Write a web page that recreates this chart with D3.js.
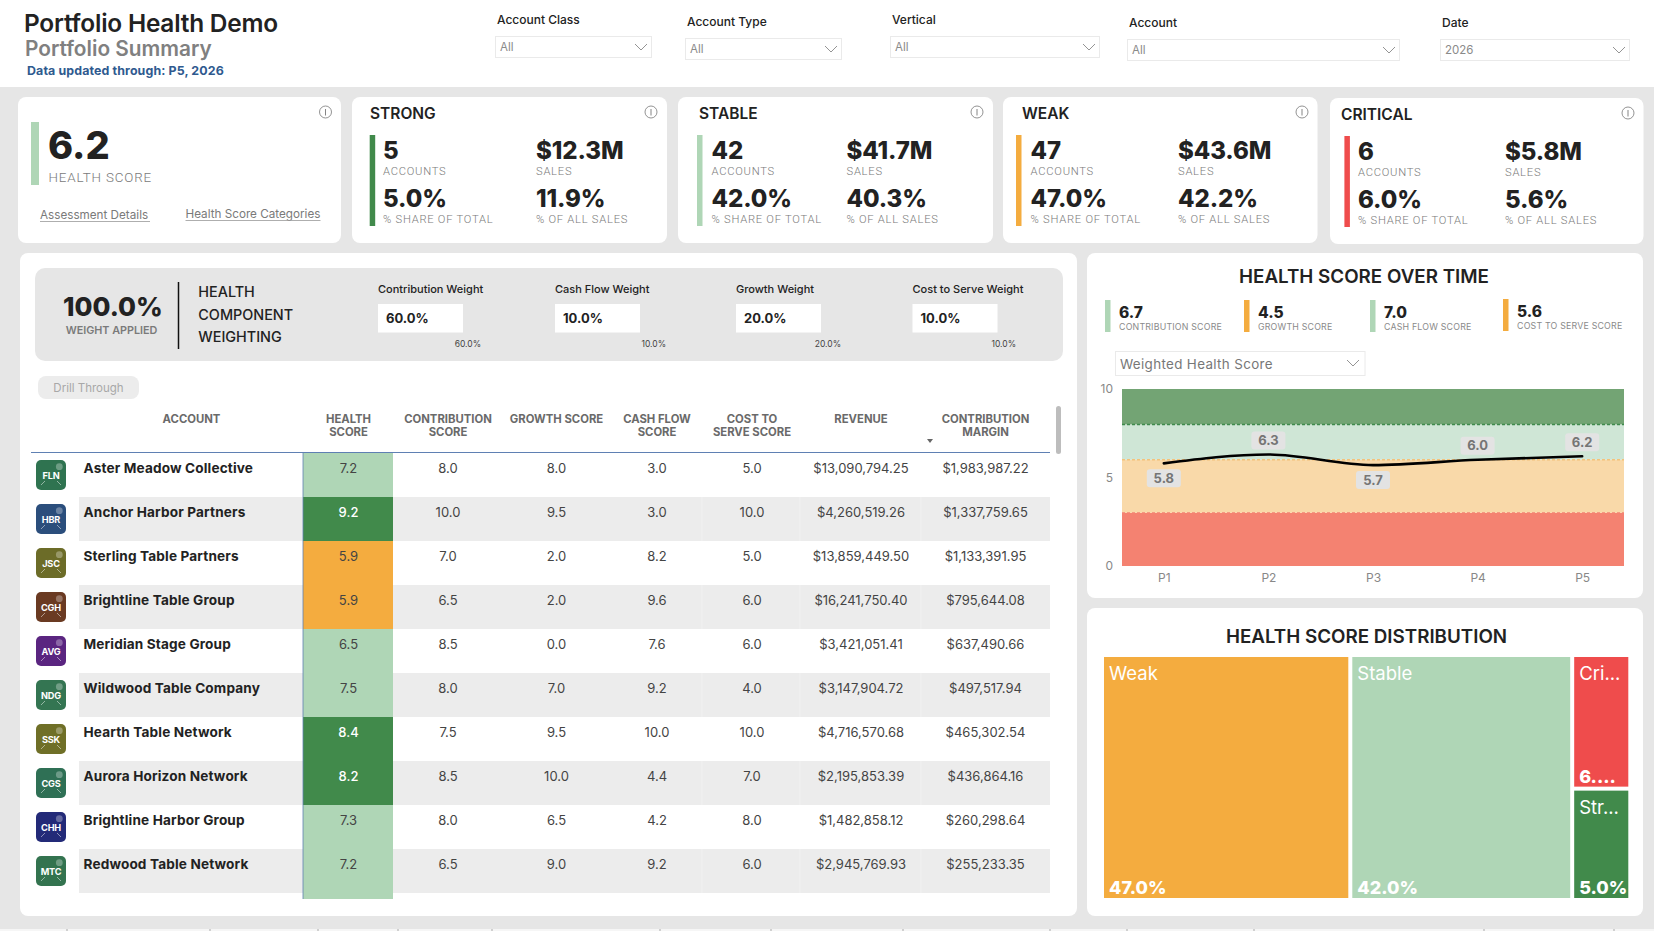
<!DOCTYPE html>
<html>
<head>
<meta charset="utf-8">
<title>Portfolio Health Demo</title>
<script src="https://cdn.jsdelivr.net/npm/d3@7"></script>
<style>
  html, body { margin: 0; padding: 0; background: #e6e6e6; }
  svg { display: block; }
  text { font-family: Inter, "Noto Sans", sans-serif; }
  .thin { font-family: Roboto, sans-serif; font-weight: 300; }
</style>
</head>
<body>
<svg id="chart" width="1654" height="931"></svg>
<script>
// slicers
const filterNames = ['Account Class', 'Account Type', 'Vertical', 'Account', 'Date'];
const filterValues = ['All', 'All', 'All', 'All', '2026'];

// category cards
const categories = ['STRONG', 'STABLE', 'WEAK', 'CRITICAL'];
const categoryAccounts = ['5', '42', '47', '6'];
const categorySales = ['$12.3M', '$41.7M', '$43.6M', '$5.8M'];
const categoryShare = ['5.0%', '42.0%', '47.0%', '6.0%'];
const categorySalesShare = ['11.9%', '40.3%', '42.2%', '5.6%'];

// weights
const weightNames = ['Contribution Weight', 'Cash Flow Weight', 'Growth Weight', 'Cost to Serve Weight'];
const weightValues = ['60.0%', '10.0%', '20.0%', '10.0%'];

// table
const columnNames = [['HEALTH', 'SCORE'], ['CONTRIBUTION', 'SCORE'], ['GROWTH SCORE'], ['CASH FLOW', 'SCORE'],
  ['COST TO', 'SERVE SCORE'], ['REVENUE'], ['CONTRIBUTION', 'MARGIN']];
const accountCodes = ['FLN', 'HBR', 'JSC', 'CGH', 'AVG', 'NDG', 'SSK', 'CGS', 'CHH', 'MTC'];
const accountNames = ['Aster Meadow Collective', 'Anchor Harbor Partners', 'Sterling Table Partners', 'Brightline Table Group',
  'Meridian Stage Group', 'Wildwood Table Company', 'Hearth Table Network', 'Aurora Horizon Network',
  'Brightline Harbor Group', 'Redwood Table Network'];
const healthScores = [7.2, 9.2, 5.9, 5.9, 6.5, 7.5, 8.4, 8.2, 7.3, 7.2];
const contributionScores = [8.0, 10.0, 7.0, 6.5, 8.5, 8.0, 7.5, 8.5, 8.0, 6.5];
const growthScores = [8.0, 9.5, 2.0, 2.0, 0.0, 7.0, 9.5, 10.0, 6.5, 9.0];
const cashFlowScores = [3.0, 3.0, 8.2, 9.6, 7.6, 9.2, 10.0, 4.4, 4.2, 9.2];
const costScores = [5.0, 10.0, 5.0, 6.0, 6.0, 4.0, 10.0, 7.0, 8.0, 6.0];
const revenues = [13090794.25, 4260519.26, 13859449.50, 16241750.40, 3421051.41, 3147904.72, 4716570.68, 2195853.39, 1482858.12, 2945769.93];
const margins = [1983987.22, 1337759.65, 1133391.95, 795644.08, 637490.66, 497517.94, 465302.54, 436864.16, 260298.64, 255233.35];

// score over time
const kpiValues = ['6.7', '4.5', '7.0', '5.6'];
const kpiNames = ['CONTRIBUTION SCORE', 'GROWTH SCORE', 'CASH FLOW SCORE', 'COST TO SERVE SCORE'];
const periods = ['P1', 'P2', 'P3', 'P4', 'P5'];
const periodScores = [5.8, 6.3, 5.7, 6.0, 6.2];
const bandEdges = [0, 3, 6, 8, 10];
const axisTicks = [0, 5, 10];

// distribution
const treeNames = ['Weak', 'Stable', 'Critical', 'Strong'];
const treeShares = [47.0, 42.0, 6.0, 5.0];
const treeLabels = ['Weak', 'Stable', 'Cri...', 'Str...'];
const treeValueLabels = ['47.0%', '42.0%', '6....', '5.0%'];

// colours
const GREEN = '#418a4b', MINT = '#afd6b6', ORANGE = '#f4ac3f', RED = '#ef4c4c';
const INK = '#222222', SOFT = '#7a7a7a';
const logoFills = ['#2f7350', '#2b4e7c', '#6c6c28', '#6a3a22', '#5a2580', '#347552', '#6f6f27', '#2f7055', '#232a78', '#33734f'];

const svg = d3.select('#chart');

function label(g, x, y, str, opts) {
  opts = opts || {};
  return g.append('text')
    .attr('x', x).attr('y', y)
    .attr('font-size', opts.size || 12)
    .attr('font-weight', opts.weight || 400)
    .attr('fill', opts.fill || INK)
    .attr('text-anchor', opts.anchor || 'start')
    .attr('letter-spacing', opts.spacing || null)
    .attr('class', opts.cls || null)
    .text(str);
}

function panel(x0, y0, x1, y1, r, fill) {
  return svg.append('rect')
    .attr('x', x0).attr('y', y0)
    .attr('width', x1 - x0).attr('height', y1 - y0)
    .attr('rx', r).attr('fill', fill || '#fff');
}

function chevron(x, y) {
  svg.append('path')
    .attr('d', d3.line()([[x - 6, y - 3], [x, y + 3], [x + 6, y - 3]]))
    .attr('fill', 'none').attr('stroke', '#888').attr('stroke-width', 0.9);
}

function infoIcon(x, y) {
  svg.append('circle').attr('cx', x).attr('cy', y).attr('r', 6)
    .attr('fill', 'none').attr('stroke', '#777').attr('stroke-width', 0.8);
  svg.append('line').attr('x1', x).attr('x2', x).attr('y1', y - 3).attr('y2', y + 3.5)
    .attr('stroke', '#777').attr('stroke-width', 0.9);
}

// header
panel(0, 0, 1654, 87, 0);
label(svg, 24, 32, 'Portfolio Health Demo', { size: 24.4, weight: 600, spacing: -0.2 });
label(svg, 25, 56, 'Portfolio Summary', { size: 20.8, weight: 600, fill: '#808080' });
label(svg, 27, 75, 'Data updated through: P5, 2026', { size: 12.4, weight: 700, fill: '#2f5a8f', spacing: 0.12 });

const filterBoxes = [[495, 652, 36], [685, 842, 38], [890, 1100, 36], [1127, 1400, 39], [1440, 1630, 39]];
filterNames.forEach((name, i) => {
  const [x0, x1, y0] = filterBoxes[i];
  label(svg, x0 + 2, y0 - 12, name, { size: 12, weight: 500 });
  svg.append('rect').attr('x', x0 + 0.5).attr('y', y0 + 0.5).attr('width', x1 - x0 - 1).attr('height', 21)
    .attr('fill', '#fff').attr('stroke', '#eaeaea');
  label(svg, x0 + 5, y0 + 15, filterValues[i], { size: 11.5, fill: '#8a8a8a' });
  chevron(x1 - 11, y0 + 11);
});

// health score card
panel(18, 97, 341, 243, 8);
svg.append('rect').attr('x', 31).attr('y', 122).attr('width', 8).attr('height', 63).attr('fill', MINT);
label(svg, 48, 159, '6.2', { size: 38, weight: 800 });
label(svg, 48.5, 182, 'HEALTH SCORE', { size: 13.4, fill: SOFT, cls: 'thin', spacing: 0.85 });
infoIcon(325.5, 112);
const links = [['Assessment Details', 40, 219, 110], ['Health Score Categories', 185.5, 218, 135]];
links.forEach(([str, x, y, w]) => {
  label(svg, x, y, str, { size: 11.7, fill: SOFT });
  svg.append('line').attr('x1', x).attr('x2', x + w).attr('y1', y + 2.5).attr('y2', y + 2.5)
    .attr('stroke', '#999').attr('stroke-width', 0.8);
});

// category cards
const cardBoxes = [[352, 667, 97], [678, 993, 97], [1003, 1317.5, 97], [1330, 1643.5, 98]];
const cardTitleX = [370, 699, 1022, 1341];
const cardBarX = [369.7, 697, 1016, 1344.4];
const cardCol1 = [383, 711.5, 1030.6, 1358];
const cardCol2 = [536, 846.5, 1178, 1505];
const cardInfoX = [651, 977, 1302, 1628];
const cardColor = d3.scaleOrdinal().domain(categories).range([GREEN, MINT, ORANGE, RED]);
const bigNumber = { size: 24, weight: 800, spacing: -0.1 };
const smallCaps = { size: 11.2, fill: SOFT, cls: 'thin', spacing: 0.75 };

categories.forEach((name, i) => {
  const [x0, x1, y0] = cardBoxes[i];
  const dy = y0 - 97;
  panel(x0, y0, x1, y0 + 146, 8);
  infoIcon(cardInfoX[i], 112 + dy);
  label(svg, cardTitleX[i], 119 + dy, name, { size: 15.5, weight: 600 });
  svg.append('rect').attr('x', cardBarX[i]).attr('y', 135 + dy).attr('width', 5.5).attr('height', 91).attr('fill', cardColor(name));
  label(svg, cardCol1[i], 159 + dy, categoryAccounts[i], bigNumber);
  label(svg, cardCol2[i], 159 + dy, categorySales[i], bigNumber);
  label(svg, cardCol1[i], 175 + dy, 'ACCOUNTS', smallCaps);
  label(svg, cardCol2[i], 175 + dy, 'SALES', smallCaps);
  label(svg, cardCol1[i], 207 + dy, categoryShare[i], bigNumber);
  label(svg, cardCol2[i], 207 + dy, categorySalesShare[i], bigNumber);
  label(svg, cardCol1[i], 223 + dy, '% SHARE OF TOTAL', smallCaps);
  label(svg, cardCol2[i], 223 + dy, '% OF ALL SALES', smallCaps);
});

// main table panel
panel(20, 253, 1077, 916, 8);
panel(35, 268, 1063, 361, 10, '#e6e6e6');
label(svg, 63, 316, '100.0%', { size: 26, weight: 800 });
label(svg, 111.5, 334, 'WEIGHT APPLIED', { size: 10.8, weight: 600, fill: SOFT, anchor: 'middle' });
svg.append('line').attr('x1', 178.5).attr('x2', 178.5).attr('y1', 282).attr('y2', 349)
  .attr('stroke', '#111').attr('stroke-width', 1.5);
['HEALTH', 'COMPONENT', 'WEIGHTING'].forEach((w, i) => {
  label(svg, 198.3, [297, 320, 342][i], w, { size: 14.4, weight: 500 });
});

const weightX = [378, 555, 736, 912.5];
const weightEnd = [481, 666, 841, 1016];
weightNames.forEach((name, i) => {
  label(svg, weightX[i], 293, name, { size: 11, weight: 500 });
  svg.append('rect').attr('x', weightX[i]).attr('y', 304).attr('width', 85).attr('height', 28.5).attr('fill', '#fff');
  label(svg, weightX[i] + 8, 323, weightValues[i], { size: 13, weight: 700 });
  label(svg, weightEnd[i], 347, weightValues[i], { size: 8.5, fill: '#444', anchor: 'end' });
});

panel(38, 376, 139, 399, 8, '#ececec');
label(svg, 88.5, 392, 'Drill Through', { size: 11.5, fill: '#a8a8a8', anchor: 'middle' });

// rows and columns
const rowY = d3.scaleBand().domain(accountNames).range([453, 893]);
const columnX = d3.scalePoint().domain(d3.range(7)).range([0, 6]);
const columnCenters = [348.5, 448, 556.5, 657, 752, 861, 985.5];
const colCenter = i => columnCenters[columnX(i)];
const healthColor = d3.scaleThreshold().domain([3, 6, 8]).range([RED, ORANGE, MINT, GREEN]);
const oneDecimal = d3.format('.1f');
const money = d3.format('$,.2f');
const scoreColumns = [contributionScores, growthScores, cashFlowScores, costScores];

const rows = svg.append('g').selectAll('g').data(accountNames).join('g')
  .attr('transform', d => `translate(0,${rowY(d)})`);

rows.filter((d, i) => i % 2 === 1).append('rect')
  .attr('x', 79).attr('width', 971).attr('height', rowY.bandwidth()).attr('fill', '#ececec');

// faint column seams on the shaded rows
rows.filter((d, i) => i % 2 === 1).selectAll('line').data([702, 800, 921]).join('line')
  .attr('x1', d => d).attr('x2', d => d).attr('y1', 0).attr('y2', rowY.bandwidth())
  .attr('stroke', '#f4f4f4').attr('stroke-width', 0.8);

// health cells run a little past the last row
rows.append('rect')
  .attr('x', 303).attr('width', 90)
  .attr('height', (d, i) => rowY.bandwidth() + (i === accountNames.length - 1 ? 6 : 0))
  .attr('fill', (d, i) => healthColor(healthScores[i]));

rows.append('text')
  .attr('x', colCenter(0)).attr('y', 20).attr('text-anchor', 'middle')
  .attr('font-size', 13)
  .attr('fill', (d, i) => healthScores[i] >= 8 ? '#fff' : '#444')
  .attr('font-weight', (d, i) => healthScores[i] >= 8 ? 500 : 400)
  .text((d, i) => oneDecimal(healthScores[i]));

rows.append('text').attr('x', 83.5).attr('y', 20)
  .attr('font-size', 13.6).attr('font-weight', 700).attr('fill', INK).attr('letter-spacing', 0.15)
  .text(d => d);

scoreColumns.forEach((col, c) => {
  rows.append('text')
    .attr('x', colCenter(c + 1)).attr('y', 20).attr('text-anchor', 'middle')
    .attr('font-size', 13).attr('fill', '#444')
    .text((d, i) => oneDecimal(col[i]));
});
rows.append('text').attr('x', colCenter(5)).attr('y', 20).attr('text-anchor', 'middle')
  .attr('font-size', 13).attr('fill', '#444').text((d, i) => money(revenues[i]));
rows.append('text').attr('x', colCenter(6)).attr('y', 20).attr('text-anchor', 'middle')
  .attr('font-size', 13).attr('fill', '#444').text((d, i) => money(margins[i]));

// account logos
const logos = rows.append('g').attr('transform', 'translate(36,7)');
logos.append('rect').attr('width', 30).attr('height', 30).attr('rx', 5).attr('fill', (d, i) => logoFills[i]);
logos.append('circle').attr('cx', 23.3).attr('cy', 6.7).attr('r', 3.4).attr('fill', '#fff').attr('opacity', 0.3);
logos.append('path').attr('d', 'M9 21 L5 25 M21 21 L25 25')
  .attr('stroke', '#fff').attr('stroke-width', 0.8).attr('opacity', 0.6);
logos.append('text').attr('x', 15).attr('y', 19).attr('text-anchor', 'middle')
  .attr('font-size', 9.2).attr('font-weight', 700).attr('fill', '#fff').attr('letter-spacing', -0.2)
  .text((d, i) => accountCodes[i]);

// table header
const headerStyle = { size: 11.3, weight: 700, fill: '#6a6a6a', anchor: 'middle' };
label(svg, 191.5, 423, 'ACCOUNT', headerStyle);
columnNames.forEach((lines, i) => {
  lines.forEach((line, j) => {
    label(svg, colCenter(i), 423 + j * 13, line, headerStyle);
  });
});
svg.append('path').attr('d', 'M927 439 L933 439 L930 443 Z').attr('fill', '#666');
svg.append('line').attr('x1', 31).attr('x2', 1050).attr('y1', 452.5).attr('y2', 452.5)
  .attr('stroke', '#5f80b3').attr('stroke-width', 1);
svg.append('line').attr('x1', 303).attr('x2', 303).attr('y1', 452).attr('y2', 899)
  .attr('stroke', '#5f80b3').attr('stroke-width', 0.8);
panel(1056, 406, 1061, 454, 2.5, '#bdbdbd');

// score over time panel
panel(1087, 253, 1643, 598, 8);
label(svg, 1364, 283, 'HEALTH SCORE OVER TIME', { size: 18.8, weight: 600, anchor: 'middle' });

const kpiBarX = [1105, 1244, 1370, 1503];
const kpiColor = [MINT, ORANGE, MINT, ORANGE];
kpiValues.forEach((v, i) => {
  const dy = i === 3 ? -1 : 0;
  svg.append('rect').attr('x', kpiBarX[i]).attr('y', 300 + dy).attr('width', 5.5).attr('height', 32).attr('fill', kpiColor[i]);
  label(svg, kpiBarX[i] + 14, 318 + dy, v, { size: 15.5, weight: 800 });
  label(svg, kpiBarX[i] + 14, 330 + dy, kpiNames[i], { size: 8.8, fill: '#8a8a8a', spacing: 0.2 });
});

svg.append('rect').attr('x', 1115.5).attr('y', 351.5).attr('width', 249.5).attr('height', 24)
  .attr('fill', '#fff').attr('stroke', '#eaeaea');
label(svg, 1120, 369, 'Weighted Health Score', { size: 13.4, fill: '#777', spacing: 0.35 });
chevron(1353, 363);

const x = d3.scalePoint().domain(periods).range([1122, 1624]).padding(0.4);
const y = d3.scaleLinear().domain([0, 10]).range([566, 389]);

const bandFills = ['#f48271', '#f9d9a9', '#cfe6d6', '#73a474'];
const lineStroke = ['#f48271', '#f4c27a', '#3f8a4c'];
svg.append('g').selectAll('rect').data(d3.pairs(bandEdges)).join('rect')
  .attr('x', 1122).attr('width', 502)
  .attr('y', d => y(d[1])).attr('height', d => y(d[0]) - y(d[1]))
  .attr('fill', (d, i) => bandFills[i]);
svg.append('g').selectAll('line').data(bandEdges.slice(1, 4)).join('line')
  .attr('x1', 1122).attr('x2', 1624)
  .attr('y1', d => y(d)).attr('y2', d => y(d))
  .attr('stroke', (d, i) => lineStroke[i]).attr('stroke-width', 1.5).attr('stroke-dasharray', '3 2');

const xAxis = svg.append('g').attr('transform', 'translate(0,566)')
  .call(d3.axisBottom(x).tickSize(0).tickPadding(7));
const yAxis = svg.append('g').attr('transform', 'translate(1122,0)')
  .call(d3.axisLeft(y).tickValues(axisTicks).tickSize(0).tickPadding(9));
[xAxis, yAxis].forEach(a => {
  a.select('.domain').remove();
  a.selectAll('text').attr('font-size', 12).attr('fill', '#888').attr('font-family', 'Inter');
});

const line = d3.line().x((d, i) => x(periods[i])).y(d => y(d)).curve(d3.curveMonotoneX);
svg.append('path').attr('d', line(periodScores))
  .attr('fill', 'none').attr('stroke', '#000').attr('stroke-width', 2.6).attr('stroke-linecap', 'round');

// data labels sit above the line, except on the two low periods
const isBelow = d => d < 5.9;
const tags = svg.append('g').selectAll('g').data(periodScores).join('g')
  .attr('transform', (d, i) => `translate(${x(periods[i])},${isBelow(d) ? y(d) + 15 : y(d) - 14})`);
tags.append('rect').attr('x', -17).attr('y', -9).attr('width', 34).attr('height', 18).attr('rx', 3).attr('fill', '#e3e3e3');
tags.append('text').attr('y', 4.5).attr('text-anchor', 'middle')
  .attr('font-size', 13).attr('font-weight', 700).attr('fill', '#757575')
  .text(d => oneDecimal(d));

// distribution panel
panel(1087, 608, 1643, 916, 8);
label(svg, 1366.5, 643, 'HEALTH SCORE DISTRIBUTION', { size: 18.8, weight: 600, anchor: 'middle' });

const treeRoot = d3.hierarchy({ children: treeNames.map((name, i) => ({ name, share: treeShares[i], i })) })
  .sum(d => d.share || 0);
d3.treemap().tile(d3.treemapSquarify).size([524.3, 241]).paddingInner(4)(treeRoot);

const treeColor = d3.scaleOrdinal().domain(treeNames).range([ORANGE, MINT, RED, GREEN]);
const cells = svg.append('g').attr('transform', 'translate(1104,657)')
  .selectAll('g').data(treeRoot.leaves()).join('g')
  .attr('transform', d => `translate(${d.x0},${d.y0})`);
cells.append('rect')
  .attr('width', d => d.x1 - d.x0).attr('height', d => d.y1 - d.y0)
  .attr('fill', d => treeColor(d.data.name));
cells.append('text').attr('x', 5).attr('y', 23)
  .attr('font-size', 18.5).attr('fill', '#fff').attr('font-weight', 400)
  .text(d => treeLabels[d.data.i]);
cells.append('text').attr('x', 5).attr('y', d => d.y1 - d.y0 - 4)
  .attr('font-size', 18).attr('font-weight', 800).attr('fill', '#fff')
  .text(d => treeValueLabels[d.data.i]);

// page tab strip along the bottom edge
panel(0, 929, 1654, 931, 0, '#f6f6f6');
const stripTicks = [67, 210, 318, 398, 492, 660, 771, 903, 1050, 1127, 1254, 1484, 1614];
svg.append('g').selectAll('line').data(stripTicks).join('line')
  .attr('x1', d => d).attr('x2', d => d).attr('y1', 929).attr('y2', 931)
  .attr('stroke', '#aaa');
</script>
</body>
</html>
